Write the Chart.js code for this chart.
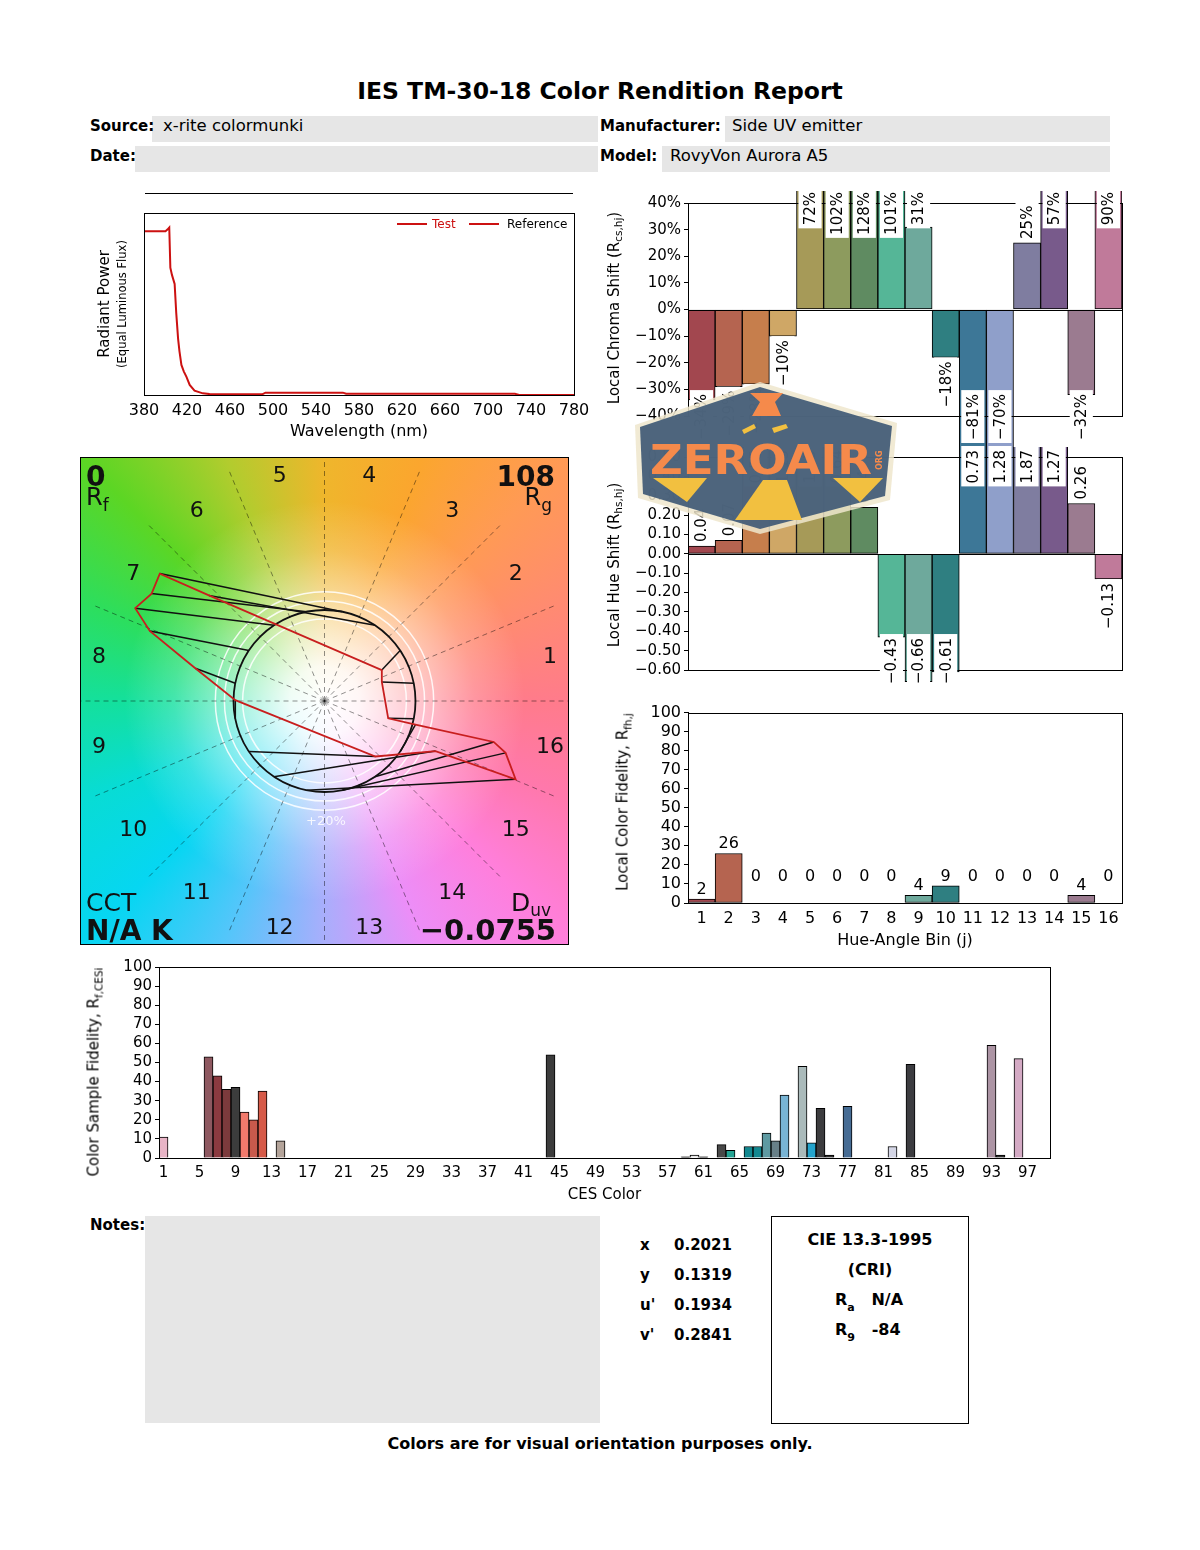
<!DOCTYPE html>
<html><head><meta charset="utf-8">
<script src="https://cdn.jsdelivr.net/npm/chart.js@4.4.1/dist/chart.umd.min.js"></script>
<style>
html,body{margin:0;padding:0;background:#fff;}
#page{position:relative;width:1200px;height:1550px;overflow:hidden;font-family:'DejaVu Sans',sans-serif;color:#000;background:#fff;}
canvas{position:absolute;}
.t{position:absolute;white-space:nowrap;line-height:1;}
.box{position:absolute;background:#e6e6e6;}
.rot{position:absolute;white-space:nowrap;line-height:1;transform:translate(-50%,-50%) rotate(-90deg);font-size:15px;}
.rot sub{font-size:70%;vertical-align:-0.35em;}
sub{line-height:0;}
#vec{position:absolute;left:80px;top:457px;width:489px;height:488px;border:1px solid #000;box-sizing:border-box;overflow:hidden;
background:
 radial-gradient(circle at 50% 50%, rgba(255,255,255,1) 0px, rgba(255,255,255,0.93) 35px, rgba(255,255,255,0.6) 90px, rgba(255,255,255,0.2) 150px, rgba(255,255,255,0) 200px),
 conic-gradient(from 0deg at 50% 50%, #efb62c 0deg, #fba62e 22deg, #ff9a55 45deg, #ff8a72 68deg, #ff7b8b 90deg, #ff78ac 112deg, #ff7fdc 135deg, #ec8ef8 158deg, #a9aefc 180deg, #52c6fa 203deg, #06d6f2 225deg, #08dcd4 248deg, #14e09c 270deg, #2cde5e 292deg, #5cd624 315deg, #b2cc2e 338deg, #efb62c 360deg);}
#vec .t{color:#111;}
#vec canvas{left:0;top:0;}
</style></head>
<body><div id="page">

<!-- header -->
<div class="t" style="left:600px;top:92px;transform:translate(-50%,-50%);font-weight:bold;font-size:23.5px;">IES TM-30-18 Color Rendition Report</div>
<div class="box" style="left:152px;top:116px;width:446px;height:26px;"></div>
<div class="box" style="left:135px;top:146px;width:463px;height:26px;"></div>
<div class="box" style="left:725px;top:116px;width:385px;height:26px;"></div>
<div class="box" style="left:662px;top:146px;width:448px;height:26px;"></div>
<div class="t" style="left:90px;top:126px;transform:translateY(-50%);font-weight:bold;font-size:15px;">Source:</div>
<div class="t" style="left:163px;top:126px;transform:translateY(-50%);font-size:16.5px;">x-rite colormunki</div>
<div class="t" style="left:90px;top:156px;transform:translateY(-50%);font-weight:bold;font-size:15px;">Date:</div>
<div class="t" style="left:600px;top:126px;transform:translateY(-50%);font-weight:bold;font-size:15px;">Manufacturer:</div>
<div class="t" style="left:732px;top:126px;transform:translateY(-50%);font-size:16.5px;">Side UV emitter</div>
<div class="t" style="left:600px;top:156px;transform:translateY(-50%);font-weight:bold;font-size:15px;">Model:</div>
<div class="t" style="left:670px;top:156px;transform:translateY(-50%);font-size:16.5px;">RovyVon Aurora A5</div>

<!-- spectrum -->
<div style="position:absolute;left:145px;top:193px;width:428px;height:1px;background:#000;"></div>
<canvas id="spec" width="520" height="261" style="left:80px;top:180px;"></canvas>
<div class="rot" style="left:104px;top:304px;font-size:15px;">Radiant Power</div>
<div class="rot" style="left:123px;top:304px;font-size:11.5px;">(Equal Luminous Flux)</div>
<div style="position:absolute;left:397px;top:223px;width:30px;height:2px;background:#cc1111;"></div>
<div class="t" style="left:432px;top:224px;transform:translateY(-50%);font-size:12px;color:#cc1111;">Test</div>
<div style="position:absolute;left:469px;top:223px;width:30px;height:2px;background:#cc1111;"></div>
<div class="t" style="left:507px;top:224px;transform:translateY(-50%);font-size:12px;">Reference</div>

<!-- vector graphic -->
<div id="vec">
  <canvas id="vector" width="487" height="486"></canvas>
  <div class="t" style="left:5px;top:5px;font-weight:bold;font-size:28px;">0</div>
  <div class="t" style="left:5px;top:27px;font-size:24px;">R<sub style="font-size:17px;vertical-align:-0.35em;">f</sub></div>
  <div class="t" style="right:13px;top:5px;font-weight:bold;font-size:28px;">108</div>
  <div class="t" style="right:16px;top:27px;font-size:24px;">R<sub style="font-size:17px;vertical-align:-0.35em;">g</sub></div>
  <div class="t" style="left:5px;top:432px;font-size:25px;">CCT</div>
  <div class="t" style="left:5px;top:459px;font-weight:bold;font-size:28px;">N/A K</div>
  <div class="t" style="right:17px;top:432px;font-size:25px;">D<sub style="font-size:17px;vertical-align:-0.3em;">uv</sub></div>
  <div class="t" style="right:12px;top:458px;font-weight:bold;font-size:29px;">&minus;0.0755</div>
  <div class="t" style="left:245px;top:362px;transform:translate(-50%,-50%);font-size:13px;color:rgba(255,255,255,0.85);">+20%</div>
  <div id="binNums"></div>
</div>

<!-- chroma & hue shift -->
<canvas id="chroma" width="540" height="265" style="left:600px;top:185px;"></canvas>
<canvas id="hue" width="540" height="260" style="left:600px;top:440px;"></canvas>
<div class="rot" style="left:614px;top:308px;">Local Chroma Shift (R<sub>cs,hj</sub>)</div>
<div class="rot" style="left:614px;top:565px;">Local Hue Shift (R<sub>hs,hj</sub>)</div>

<!-- local fidelity -->
<canvas id="fid" width="540" height="250" style="left:600px;top:700px;"></canvas>
<div class="rot" style="left:623px;top:802px;">Local Color Fidelity, R<sub>fh,j</sub></div>

<!-- CES -->
<canvas id="ces" width="990" height="249" style="left:80px;top:955px;"></canvas>
<div class="rot" style="left:94px;top:1072px;">Color Sample Fidelity, R<sub>f,CESi</sub></div>

<!-- notes -->
<div class="t" style="left:90px;top:1225px;transform:translateY(-50%);font-weight:bold;font-size:15px;">Notes:</div>
<div class="box" style="left:145px;top:1216px;width:455px;height:207px;"></div>
<div class="t" style="left:640px;top:1245px;transform:translateY(-50%);font-weight:bold;font-size:15px;">x</div>
<div class="t" style="left:674px;top:1245px;transform:translateY(-50%);font-weight:bold;font-size:15px;">0.2021</div>
<div class="t" style="left:640px;top:1275px;transform:translateY(-50%);font-weight:bold;font-size:15px;">y</div>
<div class="t" style="left:674px;top:1275px;transform:translateY(-50%);font-weight:bold;font-size:15px;">0.1319</div>
<div class="t" style="left:640px;top:1305px;transform:translateY(-50%);font-weight:bold;font-size:15px;">u'</div>
<div class="t" style="left:674px;top:1305px;transform:translateY(-50%);font-weight:bold;font-size:15px;">0.1934</div>
<div class="t" style="left:640px;top:1335px;transform:translateY(-50%);font-weight:bold;font-size:15px;">v'</div>
<div class="t" style="left:674px;top:1335px;transform:translateY(-50%);font-weight:bold;font-size:15px;">0.2841</div>
<div style="position:absolute;left:771px;top:1216px;width:198px;height:208px;border:1px solid #000;box-sizing:border-box;"></div>
<div class="t" style="left:870px;top:1240px;transform:translate(-50%,-50%);font-weight:bold;font-size:16px;">CIE 13.3-1995</div>
<div class="t" style="left:870px;top:1270px;transform:translate(-50%,-50%);font-weight:bold;font-size:16px;">(CRI)</div>
<div class="t" style="left:835px;top:1300px;transform:translateY(-50%);font-weight:bold;font-size:16px;">R<sub style="font-size:11px;vertical-align:-0.5em;">a</sub>&nbsp;&nbsp;&nbsp;N/A</div>
<div class="t" style="left:835px;top:1330px;transform:translateY(-50%);font-weight:bold;font-size:16px;">R<sub style="font-size:11px;vertical-align:-0.5em;">9</sub>&nbsp;&nbsp;&nbsp;-84</div>
<div class="t" style="left:600px;top:1444px;transform:translate(-50%,-50%);font-weight:bold;font-size:16px;">Colors are for visual orientation purposes only.</div>

<!-- watermark -->
<svg style="position:absolute;left:630px;top:378px;z-index:10;" width="272" height="160" viewBox="0 0 272 160">
  <polygon points="5,47 130,4 267,45 260,122 130,156 8,120" fill="#efe6cc" opacity="0.85"/>
  <polygon points="10,49 130,9 262,48 255,118 130,151 13,116" fill="#3d5874" opacity="0.9"/>
  <polygon points="120,15 153,15 145,24 151,38 122,38 130,24" fill="#f58a4b"/>
  <polygon points="133,102 157,102 172,142 105,142" fill="#f2c040"/>
  <polygon points="23,100 77,100 57,124" fill="#f2c040"/>
  <polygon points="203,100 253,100 230,124" fill="#f2c040"/>
  <polygon points="112,52 124,46 126,50 114,56" fill="#f2c040"/>
  <polygon points="142,50 156,46 158,50 144,55" fill="#f2c040"/>
  <text x="20" y="96" font-family="DejaVu Sans" font-weight="bold" font-size="40" fill="#f58a4b" textLength="222" lengthAdjust="spacingAndGlyphs">ZEROAIR</text>
  <text x="0" y="0" font-family="DejaVu Sans" font-weight="bold" font-size="8" fill="#f58a4b" transform="translate(252,92) rotate(-90)">ORG</text>
</svg>

</div>
<script>
// ---------------- DATA ----------------
const wavelengths = [380, 400, 402, 403.5, 404.5, 406, 408.5, 410, 411.7, 413, 414.8, 417, 419.5, 422.5, 427, 434.7, 441, 450, 490, 493, 565, 568, 725, 729, 780];
const testPower   = [0.90, 0.90, 0.91, 0.92, 0.70, 0.66, 0.61, 0.45, 0.31, 0.24, 0.165, 0.13, 0.10, 0.055, 0.024, 0.009, 0.005, 0.004, 0.004, 0.013, 0.013, 0.007, 0.007, 0.0, 0.0];

const hueBins = ['1','2','3','4','5','6','7','8','9','10','11','12','13','14','15','16'];
const binColors = ['#a2474f','#b56450','#c67e4c','#cfa766','#a69a58','#8d9b5e','#5f8b61','#55b697','#6ea99c','#2f7f81','#3d7797','#8f9fca','#7f7da0','#785a8b','#9b7b90','#c07a9a'];
const chromaShift = [-34, -29, -28, -10, 72, 102, 128, 101, 31, -18, -81, -70, 25, 57, -32, 90];
const hueShift = [0.04, 0.07, 0.55, 1.13, 1.15, 0.64, 0.24, -0.43, -0.66, -0.61, 0.73, 1.28, 1.87, 1.27, 0.26, -0.13];
const localFidelity = [2, 26, 0, 0, 0, 0, 0, 0, 4, 9, 0, 0, 0, 0, 4, 0];

// test chromaticity vector end points (normalised to reference circle radius = 1), per hue bin
const testX = [0.63, 0.63, -1.27, -1.81, -1.90, -2.08, -1.92, -1.42, -0.98, 0.56, 1.22, 2.10, 1.99, 1.86, 1.00, 0.70];
const testY = [0.21, 0.34, 1.16, 1.40, 1.18, 1.02, 0.77, 0.36, 0.01, -0.61, -0.55, -0.86, -0.57, -0.45, -0.26, -0.19];
const binAngleStep = 22.5;

const cesNumbers  = [1, 6, 7, 8, 9, 10, 11, 12, 14, 44, 59, 60, 61, 63, 64, 66, 67, 68, 69, 70, 72, 73, 74, 75, 77, 82, 84, 93, 94, 96];
const cesFidelity = [11, 53, 43, 36, 37, 24, 20, 35, 9, 54, 0.6, 1.5, 0.6, 7, 4, 6, 6, 13, 9, 33, 48, 8, 26, 1.5, 27, 6, 49, 59, 1.5, 52];
const cesColors   = ['#e8b4c6','#8e5860','#8c3a40','#7c3a3c','#3c3c3c','#f27a6c','#c85a4c','#d65a48','#b4a49a','#3c3c3c','#303030','#e8e8e8','#303030','#484848','#24a494','#128890','#128890','#5e9aa2','#688088','#78b4d4','#aababa','#24a4cc','#3c3c3e','#303030','#466c94','#d4d6e6','#3c3c40','#ac94a4','#303030','#d4aac4'];
const cesCount = 99;

// ---------------- SETUP ----------------
Chart.defaults.font.family = "'DejaVu Sans', sans-serif";
Chart.defaults.color = '#000';
Chart.defaults.animation = false;
Chart.defaults.responsive = false;
Chart.defaults.maintainAspectRatio = false;
Chart.defaults.plugins.legend.display = false;
Chart.defaults.plugins.tooltip.enabled = false;

const minus = s => s.replace('-', '\u2212');

function framePlugin(zeroLine){
  return {id:'frame', afterDatasetsDraw(chart){
    const {ctx, chartArea:a} = chart;
    ctx.save(); ctx.strokeStyle='#000'; ctx.lineWidth=1;
    ctx.strokeRect(Math.round(a.left)+0.5, Math.round(a.top)+0.5, Math.round(a.right-a.left), Math.round(a.bottom-a.top));
    if(zeroLine){
      const y = Math.round(chart.scales.y.getPixelForValue(0))+0.5;
      ctx.beginPath(); ctx.moveTo(a.left,y); ctx.lineTo(a.right,y); ctx.stroke();
    }
    ctx.restore();
  }};
}

function shiftLabels(texts, minTop, maxBottom){
  return {id:'shiftLabels', afterDatasetsDraw(chart){
    const ctx = chart.ctx, ys = chart.scales.y, meta = chart.getDatasetMeta(0), vals = chart.data.datasets[0].data;
    ctx.save(); ctx.font = "15px 'DejaVu Sans'";
    meta.data.forEach((bar,i)=>{
      const v = vals[i], txt = texts[i], w = ctx.measureText(txt).width, end = ys.getPixelForValue(v);
      let top, bottom;
      if(v >= 0){ bottom = end - 4; top = bottom - w; if(top < minTop){ top = minTop; bottom = top + w; } }
      else { top = end + 4; bottom = top + w; if(bottom > maxBottom){ bottom = maxBottom; top = bottom - w; } }
      const bw = bar.width - 4;
      ctx.fillStyle = '#fff'; ctx.fillRect(bar.x - bw/2, top - 4, bw, w + 7);
      ctx.save(); ctx.translate(bar.x, bottom); ctx.rotate(-Math.PI/2);
      ctx.fillStyle='#000'; ctx.textAlign='left'; ctx.textBaseline='middle'; ctx.fillText(txt, 0, 1);
      ctx.restore();
    });
    ctx.restore();
  }};
}

const yTickGrid = {display:true, drawOnChartArea:false, drawTicks:true, tickLength:4, color:'#000'};

// ---------------- SPECTRUM ----------------
new Chart(document.getElementById('spec'), {
  type:'line',
  data:{datasets:[{data: wavelengths.map((w,i)=>({x:w, y:testPower[i]})), borderColor:'#cc1111', borderWidth:2, pointRadius:0, tension:0}]},
  options:{
    layout:{padding:{left:64, right:26, top:33, bottom:0}},
    scales:{
      x:{type:'linear', min:380, max:780, ticks:{stepSize:40, font:{size:16}, padding:6, maxRotation:0, autoSkip:false}, grid:{display:false, drawTicks:false}, border:{display:false},
         title:{display:true, text:'Wavelength (nm)', font:{size:16}, padding:0}, afterFit(s){ s.height = 46; }},
      y:{display:false, min:0, max:1}
    }
  },
  plugins:[framePlugin(false)]
});

// ---------------- VECTOR GRAPHIC ----------------
const vecDatasets = [];
const testPoly = testX.map((x,i)=>({x, y:testY[i]})); testPoly.push({x:testX[0], y:testY[0]});
vecDatasets.push({data:testPoly, borderColor:'#c81e1e', borderWidth:1.8, showLine:true, pointRadius:0, fill:false});
hueBins.forEach((b,i)=>{
  const a = (i + 0.5) * binAngleStep * Math.PI/180;
  vecDatasets.push({data:[{x:Math.cos(a), y:Math.sin(a)}, {x:testX[i], y:testY[i]}], borderColor:'#111', borderWidth:1.5, showLine:true, pointRadius:0});
});
for(let k=0;k<16;k++){
  const a = k * binAngleStep * Math.PI/180;
  vecDatasets.push({data:[{x:0,y:0},{x:2.75*Math.cos(a), y:2.75*Math.sin(a)}], borderColor:'rgba(0,0,0,0.55)', borderWidth:0.8, borderDash:[5,4], showLine:true, pointRadius:0});
}
const ringPlugin = {id:'rings', beforeDatasetsDraw(chart){
  const {ctx} = chart, xs = chart.scales.x, ys = chart.scales.y;
  const cx = xs.getPixelForValue(0), cy = ys.getPixelForValue(0), r1 = xs.getPixelForValue(1) - cx;
  ctx.save();
  ctx.strokeStyle='rgba(255,255,255,0.85)'; ctx.lineWidth=1.5;
  [0.9, 1.1, 1.2].forEach(r=>{ ctx.beginPath(); ctx.arc(cx, cy, r*r1, 0, 2*Math.PI); ctx.stroke(); });
  ctx.strokeStyle='#111'; ctx.lineWidth=1.8;
  ctx.beginPath(); ctx.arc(cx, cy, r1, 0, 2*Math.PI); ctx.stroke();
  ctx.restore();
}};
new Chart(document.getElementById('vector'), {
  type:'scatter',
  data:{datasets:vecDatasets},
  options:{
    layout:{padding:0},
    scales:{x:{display:false, min:-2.676, max:2.676}, y:{display:false, min:-2.67, max:2.67}}
  },
  plugins:[ringPlugin]
});
// hue-bin numbers around the graphic
(function(){
  const holder = document.getElementById('binNums');
  hueBins.forEach((b,i)=>{
    const a = (i + 0.5) * binAngleStep * Math.PI/180;
    const d = document.createElement('div');
    d.className = 't';
    d.style.fontSize = '22px';
    d.style.left = (243.5 + 230*Math.cos(a)) + 'px';
    d.style.top = (243 - 230*Math.sin(a)) + 'px';
    d.style.transform = 'translate(-50%,-50%)';
    d.textContent = b;
    holder.appendChild(d);
  });
})();

// ---------------- CHROMA SHIFT ----------------
new Chart(document.getElementById('chroma'), {
  type:'bar',
  data:{labels:hueBins, datasets:[{data:chromaShift, backgroundColor:binColors, borderColor:'#000', borderWidth:1, borderSkipped:false, barPercentage:1, categoryPercentage:1, clip:{left:0, right:0, top:12, bottom:31}}]},
  options:{
    layout:{padding:{left:0, right:18, top:18, bottom:34}},
    scales:{
      x:{display:false},
      y:{min:-40, max:40, ticks:{stepSize:10, autoSkip:false, font:{size:15}, padding:3, callback:v=>minus(Math.round(v)+'%')},
         grid:yTickGrid, border:{display:true, color:'#000'}, afterFit(s){ s.width = 88; }}
    }
  },
  plugins:[framePlugin(true), shiftLabels(chromaShift.map(v=>minus(Math.round(v)+'%')), 7, 255)]
});

// ---------------- HUE SHIFT ----------------
new Chart(document.getElementById('hue'), {
  type:'bar',
  data:{labels:hueBins, datasets:[{data:hueShift, backgroundColor:binColors, borderColor:'#000', borderWidth:1, borderSkipped:false, barPercentage:1, categoryPercentage:1, clip:{left:0, right:0, top:10, bottom:20}}]},
  options:{
    layout:{padding:{left:0, right:18, top:17, bottom:30}},
    scales:{
      x:{display:false},
      y:{min:-0.6, max:0.5, ticks:{stepSize:0.1, autoSkip:false, font:{size:15}, padding:3, callback:v=>minus(Number(v).toFixed(2))},
         grid:yTickGrid, border:{display:true, color:'#000'}, afterFit(s){ s.width = 88; }}
    }
  },
  plugins:[framePlugin(true), shiftLabels(hueShift.map(v=>minus(v.toFixed(2))), 10, 244)]
});

// ---------------- LOCAL FIDELITY ----------------
const fidLabels = {id:'fidLabels', afterDatasetsDraw(chart){
  const ctx = chart.ctx, ys = chart.scales.y, meta = chart.getDatasetMeta(0), vals = chart.data.datasets[0].data;
  ctx.save(); ctx.font = "16px 'DejaVu Sans'"; ctx.textAlign='center'; ctx.textBaseline='alphabetic'; ctx.fillStyle='#000';
  meta.data.forEach((bar,i)=>{
    const v = vals[i];
    // zero-valued bins have their label lifted to the same height as in the report
    const y = ys.getPixelForValue(v === 0 ? 9 : v) - 5;
    ctx.fillText(String(v), bar.x, y);
  });
  ctx.restore();
}};
new Chart(document.getElementById('fid'), {
  type:'bar',
  data:{labels:hueBins, datasets:[{data:localFidelity, backgroundColor:binColors, borderColor:'#000', borderWidth:1, borderSkipped:false, barPercentage:1, categoryPercentage:1}]},
  options:{
    layout:{padding:{left:0, right:18, top:11, bottom:0}},
    scales:{
      x:{ticks:{font:{size:16}, padding:6, maxRotation:0, autoSkip:false}, grid:{display:false, drawTicks:false}, border:{display:false},
         title:{display:true, text:'Hue-Angle Bin (j)', font:{size:16}, padding:0}, afterFit(s){ s.height = 47; }},
      y:{min:0, max:100, ticks:{stepSize:10, autoSkip:false, font:{size:16}, padding:3},
         grid:yTickGrid, border:{display:true, color:'#000'}, afterFit(s){ s.width = 88; }}
    }
  },
  plugins:[framePlugin(false), fidLabels]
});

// ---------------- CES ----------------
const cesLabels = [], cesData = [], cesBg = [];
for(let i=1;i<=cesCount;i++){ cesLabels.push(String(i)); cesData.push(null); cesBg.push('#000'); }
cesNumbers.forEach((n,k)=>{ cesData[n-1] = cesFidelity[k]; cesBg[n-1] = cesColors[k]; });
new Chart(document.getElementById('ces'), {
  type:'bar',
  data:{labels:cesLabels, datasets:[{data:cesData, backgroundColor:cesBg, borderColor:'#000', borderWidth:1, borderSkipped:'start', barPercentage:1, categoryPercentage:1}]},
  options:{
    layout:{padding:{left:0, right:20, top:10, bottom:0}},
    scales:{
      x:{ticks:{font:{size:15}, padding:6, maxRotation:0, autoSkip:false, callback:function(v, idx){ return idx % 4 === 0 ? this.getLabelForValue(v) : ''; }},
         grid:{display:false, drawTicks:false}, border:{display:false},
         title:{display:true, text:'CES Color', font:{size:15}, padding:0}, afterFit(s){ s.height = 46; }},
      y:{min:0, max:100, ticks:{stepSize:10, autoSkip:false, font:{size:15}, padding:3},
         grid:yTickGrid, border:{display:true, color:'#000'}, afterFit(s){ s.width = 79; }}
    }
  },
  plugins:[framePlugin(false)]
});
</script>
</body></html>
